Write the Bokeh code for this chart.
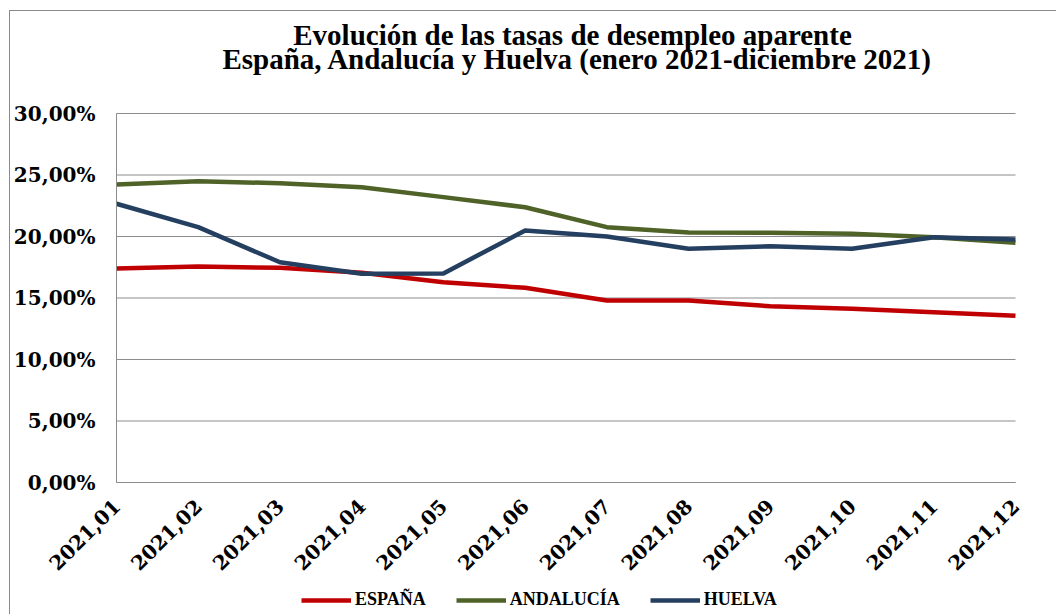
import math
from bokeh.plotting import figure
from bokeh.models import Range1d, FixedTicker, Label, Legend, LegendItem
from bokeh.embed import file_html
from bokeh.resources import INLINE

# ---- data ----
months = ["2021,01", "2021,02", "2021,03", "2021,04", "2021,05", "2021,06",
          "2021,07", "2021,08", "2021,09", "2021,10", "2021,11", "2021,12"]
espana = [17.40, 17.56, 17.45, 17.05, 16.28, 15.83, 14.80, 14.80, 14.33, 14.12, 13.85, 13.56]
andalucia = [24.23, 24.50, 24.33, 24.01, 23.20, 22.38, 20.76, 20.33, 20.30, 20.22, 19.94, 19.49]
huelva = [22.66, 20.76, 17.91, 16.97, 17.00, 20.49, 20.00, 19.00, 19.21, 19.00, 19.94, 19.76]
series_names = ["ESPAÑA", "ANDALUCÍA", "HUELVA"]
y_ticks = [0, 5, 10, 15, 20, 25, 30]
y_tick_labels = ["0,00%", "5,00%", "10,00%", "15,00%", "20,00%", "25,00%", "30,00%"]
title_lines = ["Evolución de las tasas de desempleo aparente",
               "España, Andalucía y Huelva (enero 2021-diciembre 2021)"]

colors = ["#C00000", "#4F6228", "#243F60"]
GRID = "#8c8c8c"
SERIF = "Liberation Serif"
AXFONT = "DejaVu Serif"

xs = list(range(len(months)))

# The frame covers the whole canvas so that title, legend and axis labels are
# drawn inside it; the plotting area is 899 x 369 px, with 116 px on the
# left, 41 px on the right, 113 px above and 132 px below.
CANVAS_W, CANVAS_H = 1056, 614
AREA_W, AREA_H = 899, 369
LEFT_PX, TOP_PX = 116, 113
RIGHT_PX = CANVAS_W - AREA_W - LEFT_PX
BOTTOM_PX = CANVAS_H - AREA_H - TOP_PX
px_x = AREA_W / (xs[-1] - xs[0])
px_y = AREA_H / (y_ticks[-1] - y_ticks[0])

p = figure(frame_width=CANVAS_W, frame_height=CANVAS_H,
           min_border_left=0, min_border_right=0,
           min_border_top=0, min_border_bottom=0,
           x_range=Range1d(xs[0] - LEFT_PX / px_x, xs[-1] + RIGHT_PX / px_x),
           y_range=Range1d(y_ticks[0] - BOTTOM_PX / px_y, y_ticks[-1] + TOP_PX / px_y),
           output_backend="svg", toolbar_location=None, title=None)
p.outline_line_color = None
p.background_fill_color = None
p.border_fill_color = None
p.styles = {
    "background-color": "white",
    "background-image": "linear-gradient(#8a8a8a, #8a8a8a), linear-gradient(#8a8a8a, #8a8a8a)",
    "background-size": "1px 100%, 100% 1px",
    "background-position": "9px 10px, 9px 10px",
    "background-repeat": "no-repeat",
}

# horizontal gridlines limited to the plotting area
p.xgrid.visible = False
p.ygrid.visible = False
p.segment(x0=[xs[0]] * len(y_ticks), y0=y_ticks, x1=[xs[-1]] * len(y_ticks), y1=y_ticks,
          line_color=GRID, line_width=1)

renderers = []
for vals, col in zip([espana, andalucia, huelva], colors):
    r = p.line(xs, vals, line_color=col, line_width=4.5, line_join="round")
    renderers.append(r)

# axes (fixed inside the frame)
p.xaxis.ticker = FixedTicker(ticks=xs)
p.xaxis.major_label_overrides = {i: m for i, m in zip(xs, months)}
p.xaxis.major_label_orientation = math.pi / 4
p.xaxis.major_label_standoff = 20
p.xaxis.fixed_location = y_ticks[0]
p.xaxis.bounds = (xs[0], xs[-1])
p.yaxis.ticker = FixedTicker(ticks=y_ticks)
p.yaxis.major_label_overrides = {t: l for t, l in zip(y_ticks, y_tick_labels)}
p.yaxis.major_label_standoff = 21
p.yaxis.fixed_location = xs[0]
p.yaxis.bounds = (y_ticks[0], y_ticks[-1])
for ax in (p.xaxis[0], p.yaxis[0]):
    ax.major_tick_out = 0
    ax.major_tick_in = 0
    ax.minor_tick_out = 0
    ax.minor_tick_in = 0
    ax.axis_line_color = GRID
    ax.axis_line_width = 1
    ax.major_label_text_font = AXFONT
    ax.major_label_text_font_style = "bold"
    ax.major_label_text_font_size = "20px"
    ax.major_label_text_color = "black"

# title (screen units relative to the frame's bottom-left corner)
for txt, xx, yy in [(title_lines[0], 572, 580), (title_lines[1], 577, 556)]:
    p.add_layout(Label(x=xx, y=yy, x_units="screen", y_units="screen", text=txt,
                       text_align="center", text_baseline="alphabetic",
                       text_font=SERIF, text_font_size="29px",
                       text_font_style="bold", text_color="black"))

legend = Legend(items=[LegendItem(label=n, renderers=[r]) for n, r in zip(series_names, renderers)],
                orientation="horizontal", location=(301, 4),
                glyph_width=50, glyph_height=20, label_standoff=4, spacing=30,
                padding=0, margin=0, border_line_alpha=0, background_fill_alpha=0,
                label_text_font=SERIF, label_text_font_size="18px",
                label_text_font_style="bold", label_text_color="black")
p.add_layout(legend)

open("out.html", "w").write(file_html(p, INLINE))
